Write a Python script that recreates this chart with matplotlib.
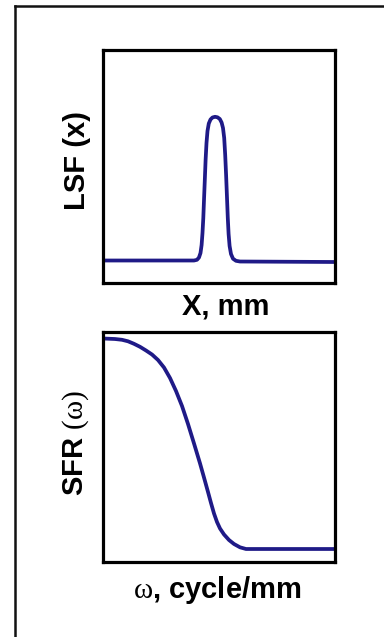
import matplotlib
matplotlib.use("Agg")
import matplotlib.pyplot as plt
from matplotlib.lines import Line2D

plt.rcParams['font.family'] = ['Liberation Sans', 'DejaVu Sans']
plt.rcParams['mathtext.fontset'] = 'custom'
plt.rcParams['mathtext.rm'] = 'Liberation Serif'

# LSF curve (arbitrary units)
lsf_x = [0, 39.15, 40.44, 41.30, 41.95, 42.43, 42.81, 43.16, 43.46, 43.81, 44.15,
         44.54, 44.97, 45.53, 46.27, 47.13, 48.21, 49.29, 50.28, 51.06, 51.66,
         52.18, 52.61, 53.00, 53.39, 53.73, 54.08, 54.51, 55.11, 55.98, 57.27,
         59.0, 100]
lsf_y = [9.77, 9.77, 10.07, 11.06, 12.99, 16.42, 21.56, 27.99, 35.71, 44.28, 52.85,
         60.14, 65.28, 68.50, 70.21, 71.07, 71.37, 71.15, 70.43, 68.92, 66.57,
         62.28, 54.99, 46.42, 36.56, 27.99, 21.13, 15.99, 12.56, 10.54, 9.64,
         9.34, 9.13]

# SFR curve (arbitrary units)
sfr_x = [0, 5.05, 8.07, 10.66, 13.25, 15.84, 18.43, 21.02, 23.61, 26.20, 28.79,
         31.38, 33.97, 36.56, 39.15, 41.73, 43.46, 45.19, 46.48, 47.78, 49.07,
         50.37, 52.10, 54.25, 56.41, 59.0, 61.59, 100]
sfr_y = [97.05, 96.83, 96.49, 95.84, 94.75, 93.45, 91.85, 90.11, 87.73, 84.47, 79.92,
         74.28, 67.78, 59.97, 51.52, 42.93, 36.77, 30.49, 25.72, 21.16, 17.48,
         14.66, 12.06, 9.67, 7.94, 6.50, 5.77, 5.77]

top_xlabel = "X, mm"
top_ylabel = "LSF (x)"
bot_xlabel = r"$\mathrm{\omega}$, cycle/mm"
bot_ylabel = r"SFR $\mathrm{(\omega)}$"

W, H = 384, 637
fig = plt.figure(figsize=(W / 100, H / 100), dpi=100)

# outer frame (left and top edges)
fig.add_artist(Line2D([14.5 / W, 14.5 / W], [0, 1 - 5.5 / H], color='#111111', lw=1.8,
                      transform=fig.transFigure))
fig.add_artist(Line2D([14.5 / W, 1], [1 - 5.5 / H, 1 - 5.5 / H], color='#111111', lw=1.8,
                      transform=fig.transFigure))

line_color = '#1f1a87'
fs = 21

def make_axes(rect, x, y, xl, yl, xl_pos, yl_pos):
    ax = fig.add_axes(rect)
    ax.plot(x, y, color=line_color, lw=2.7, solid_joinstyle='round', solid_capstyle='butt')
    ax.set_xlim(0, 100)
    ax.set_ylim(0, 100)
    ax.set_xticks([])
    ax.set_yticks([])
    for s in ax.spines.values():
        s.set_linewidth(2.3)
        s.set_color('black')
    ax.text(xl_pos[0], xl_pos[1], xl, transform=ax.transAxes, ha='center', va='center',
            fontsize=fs, fontweight='bold')
    ax.text(yl_pos[0], yl_pos[1], yl, transform=ax.transAxes, ha='center', va='center',
            fontsize=fs, fontweight='bold', rotation=90)
    return ax

left = 103.3 / W
width = (335 - 103.3) / W
make_axes([left, 1 - 283.3 / H, width, 233.3 / H], lsf_x, lsf_y, top_xlabel, top_ylabel,
          (0.53, -0.10), (-0.115, 0.528))
make_axes([left, 1 - 562.3 / H, width, 230.6 / H], sfr_x, sfr_y, bot_xlabel, bot_ylabel,
          (0.49, -0.12), (-0.12, 0.517))

fig.savefig("out.png", dpi=100)
